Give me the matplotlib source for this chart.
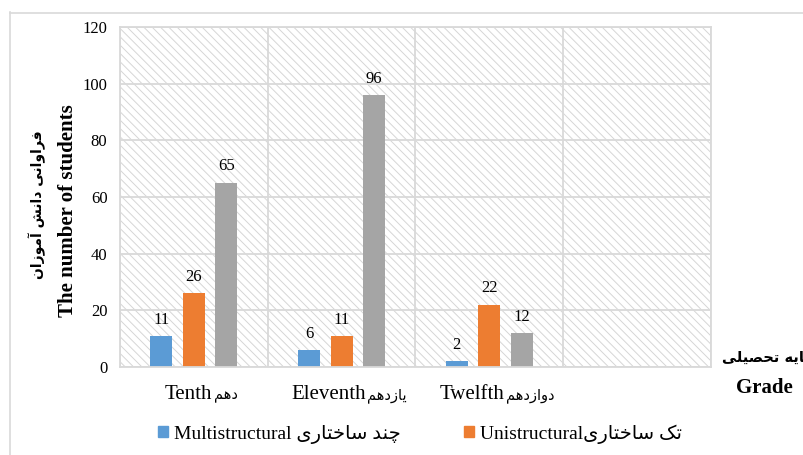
import matplotlib
matplotlib.use("Agg")
from matplotlib import pyplot as plt
from matplotlib.patches import Rectangle, Patch
from matplotlib.lines import Line2D
from matplotlib.offsetbox import TextArea, HPacker, AnnotationBbox

grades_en = ["Tenth", "Eleventh", "Twelfth"]
grades_fa = ["دهم", "یازدهم", "دوازدهم"]
multistructural = [11, 6, 2]
unistructural = [26, 11, 22]
third_series = [65, 96, 12]

# arabic presentation forms: isolated, final, initial, medial
FORMS = {
    'ا': ('\uFE8D', '\uFE8E', None, None),
    'آ': ('\uFE81', '\uFE82', None, None),
    'د': ('\uFEA9', '\uFEAA', None, None),
    'ر': ('\uFEAD', '\uFEAE', None, None),
    'ز': ('\uFEAF', '\uFEB0', None, None),
    'و': ('\uFEED', '\uFEEE', None, None),
    'پ': ('\uFB56', '\uFB57', '\uFB58', '\uFB59'),
    'ت': ('\uFE95', '\uFE96', '\uFE97', '\uFE98'),
    'ح': ('\uFEA1', '\uFEA2', '\uFEA3', '\uFEA4'),
    'خ': ('\uFEA5', '\uFEA6', '\uFEA7', '\uFEA8'),
    'چ': ('\uFB7A', '\uFB7B', '\uFB7C', '\uFB7D'),
    'س': ('\uFEB1', '\uFEB2', '\uFEB3', '\uFEB4'),
    'ش': ('\uFEB5', '\uFEB6', '\uFEB7', '\uFEB8'),
    'ص': ('\uFEB9', '\uFEBA', '\uFEBB', '\uFEBC'),
    'ف': ('\uFED1', '\uFED2', '\uFED3', '\uFED4'),
    'ک': ('\uFB8E', '\uFB8F', '\uFB90', '\uFB91'),
    'ل': ('\uFEDD', '\uFEDE', '\uFEDF', '\uFEE0'),
    'م': ('\uFEE1', '\uFEE2', '\uFEE3', '\uFEE4'),
    'ن': ('\uFEE5', '\uFEE6', '\uFEE7', '\uFEE8'),
    'ه': ('\uFEE9', '\uFEEA', '\uFEEB', '\uFEEC'),
    'ی': ('\uFBFC', '\uFBFD', '\uFBFE', '\uFBFF'),
}


def fa(s):
    out = []
    for i, c in enumerate(s):
        if c not in FORMS:
            out.append(c)
            continue
        prev = s[i - 1] if i > 0 else None
        nxt = s[i + 1] if i + 1 < len(s) else None
        jp = prev in FORMS and FORMS[prev][2] is not None
        jn = FORMS[c][2] is not None and nxt in FORMS
        iso, fin, ini, med = FORMS[c]
        out.append(med if jp and jn else fin if jp else ini if jn else iso)
    return ''.join(out)[::-1]


MIX = ['Liberation Serif', 'DejaVu Sans']
GRID = '#d9d9d9'
blue, orange, gray = '#5b9bd5', '#ed7d31', '#a5a5a5'
plt.rcParams['hatch.linewidth'] = 0.7

fig = plt.figure(figsize=(8.04, 4.55), dpi=100)
W, H = 804, 455
ax = fig.add_axes([120 / W, 88 / H, 591 / W, 340 / H])

# hatched plot area
ax.add_patch(Rectangle((0, 0), 1, 1, transform=ax.transAxes, facecolor='white',
                       edgecolor='#d6d6d6', hatch='\\\\\\\\', lw=0, zorder=0))

x = list(range(len(grades_en)))
w = 0.15
off = 0.22
b1 = ax.bar([i - off for i in x], multistructural, w, color=blue, zorder=2)
b2 = ax.bar(x, unistructural, w, color=orange, zorder=2)
b3 = ax.bar([i + off for i in x], third_series, w, color=gray, zorder=2)
for b in (b1, b2, b3):
    ax.bar_label(b, padding=6, fontsize=12, family='Liberation Serif')

ax.set_xlim(-0.5, 3.5)
ax.set_ylim(0, 120)
ax.set_yticks(range(0, 121, 20))
ax.set_xticks([])
ax.set_xticks([-0.5, 0.5, 1.5, 2.5, 3.5], minor=True)
ax.tick_params(which='both', length=0)
ax.tick_params(axis='y', labelsize=12, pad=9)
for t in ax.get_yticklabels():
    t.set_family('Liberation Serif')
ax.grid(axis='y', which='major', color=GRID, lw=1.3, zorder=1)
ax.grid(axis='x', which='minor', color=GRID, lw=1.3, zorder=1)
for s in ax.spines.values():
    s.set_color(GRID)
    s.set_linewidth(1.3)

# category labels: english + persian side by side
for i in x:
    box = HPacker(children=[
        TextArea(grades_en[i], textprops=dict(family='Liberation Serif', size=15)),
        TextArea(fa(grades_fa[i]), textprops=dict(family='DejaVu Sans', size=10.5)),
    ], align='baseline', pad=0, sep=1)
    ab = AnnotationBbox(box, (i + 0.05, 0), xycoords=('data', 'axes fraction'),
                        xybox=(0, -13), boxcoords='offset points',
                        box_alignment=(0.5, 1), frameon=False, pad=0)
    ax.add_artist(ab)

fig.text(68 / W, 1 - 211 / H, 'The number of students', rotation=90,
         ha='center', va='center', family='Liberation Serif', weight='bold', size=15)
fig.text(37 / W, 1 - 205 / H, fa('فراوانی دانش آموزان'), rotation=90,
         ha='center', va='center', family='DejaVu Sans', weight='bold', size=10)
fig.text(722 / W, 1 - 358 / H, fa('پایه تحصیلی'), ha='left', va='center',
         family='DejaVu Sans', weight='bold', size=10.5)
fig.text(764 / W, 1 - 388 / H, 'Grade', ha='center', va='center',
         family='Liberation Serif', weight='bold', size=15)

handles = [Patch(color=blue), Patch(color=orange)]
labels = ['Multistructural ' + fa('چند ساختاری'), 'Unistructural' + fa('تک ساختاری')]
fig.legend(handles, labels, loc='center left', bbox_to_anchor=(158 / W, 1 - 434 / H),
           ncol=2, frameon=False, prop=dict(family=MIX, size=14),
           handlelength=0.5, handleheight=0.5, handletextpad=0.3,
           columnspacing=3.3, borderpad=0, borderaxespad=0)

# outer chart frame
fig.add_artist(Line2D([10.5 / W, 10.5 / W], [0, 1 - 12 / H], color=GRID, lw=1.2))
fig.add_artist(Line2D([10 / W, 1], [1 - 12.5 / H, 1 - 12.5 / H], color=GRID, lw=1.2))

fig.savefig('out.png', dpi=100)
